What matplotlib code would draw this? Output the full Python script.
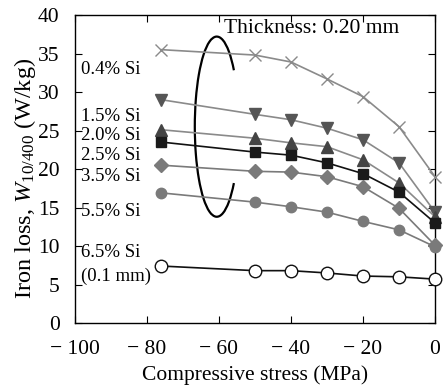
import matplotlib
matplotlib.use('Agg')
import matplotlib.pyplot as plt
import matplotlib.patches as patches
import numpy as np

plt.rcParams['font.family'] = ['Liberation Serif', 'DejaVu Serif']
plt.rcParams['mathtext.fontset'] = 'custom'
plt.rcParams['mathtext.rm'] = 'Liberation Serif'
plt.rcParams['mathtext.it'] = 'Liberation Serif:italic'

# data
stress = [-76, -50, -40, -30, -20, -10, 0]
si_04 = [35.5, 34.8, 33.9, 31.7, 29.4, 25.5, 19.0]
si_15 = [29.0, 27.1, 26.4, 25.3, 23.8, 20.8, 14.4]
si_20 = [25.1, 24.0, 23.4, 22.9, 21.2, 18.2, 13.8]
si_25 = [23.5, 22.2, 21.8, 20.8, 19.4, 17.0, 13.0]
si_35 = [20.5, 19.7, 19.6, 19.0, 17.7, 14.9, 10.1]
si_55 = [16.9, 15.7, 15.1, 14.4, 13.2, 12.1, 9.9]
si_65 = [7.4, 6.8, 6.8, 6.5, 6.1, 6.0, 5.7]

labels = ['0.4% Si', '1.5% Si', '2.0% Si', '2.5% Si', '3.5% Si', '5.5% Si', '6.5% Si', '(0.1 mm)']
label_y = [32.9, 26.8, 24.4, 21.7, 19.0, 14.5, 9.1, 6.0]
xticks = [-100, -80, -60, -40, -20, 0]
xticklabels = ['\u2212 100', '\u2212 80', '\u2212 60', '\u2212 40', '\u2212 20', '0']

fig = plt.figure(figsize=(4.43, 3.85), dpi=100)
ax = fig.add_axes([0.169, 0.161, 0.813, 0.80])

series = [
    (si_04, dict(color='#8a8a8a', marker='x', ms=9, mew=1.0, mec='#8a8a8a')),
    (si_15, dict(color='#8a8a8a', marker='v', ms=9, mfc='#555555', mec='#555555')),
    (si_20, dict(color='#8a8a8a', marker='^', ms=9, mfc='#444444', mec='#444444')),
    (si_25, dict(color='#111111', marker='s', ms=7.5, mfc='#1a1a1a', mec='#1a1a1a')),
    (si_35, dict(color='#7a7a7a', marker='D', ms=7, mfc='#7a7a7a', mec='#7a7a7a')),
    (si_55, dict(color='#7a7a7a', marker='o', ms=7.5, mfc='#7a7a7a', mec='#7a7a7a')),
    (si_65, dict(color='#111111', marker='o', ms=9, mfc='white', mec='#111111', mew=1.0)),
]
for vals, kw in series:
    ax.plot(stress, vals, lw=1.2, clip_on=False, zorder=3, **kw)

for lab, y in zip(labels, label_y):
    ax.text(-98.3, y, lab, fontsize=13.5, va='center', ha='left')

ax.text(-58.5, 38.2, 'Thickness: 0.20 mm', fontsize=15.5, va='center', ha='left')

# open ellipse bracket
arc = patches.Arc((-60.6, 25.5), 12.2, 23.4, theta1=57, theta2=303,
                  color='black', lw=1.6)
ax.add_patch(arc)

ax.set_xlim(-100, 0)
ax.set_ylim(0, 40)
ax.set_xticks(xticks)
ax.set_xticklabels(xticklabels)
ax.set_yticks(range(0, 41, 5))
ax.tick_params(direction='in', top=True, right=True, length=5, width=0.8,
               labelsize=15.5)
ax.tick_params(axis='x', pad=12)
ax.tick_params(axis='y', pad=11)
for s in ax.spines.values():
    s.set_linewidth(1.0)

ax.set_xlabel('Compressive stress (MPa)', fontsize=15.5, labelpad=5)
ax.set_ylabel('Iron loss, $W_{10/400}$ (W/kg)', fontsize=17.5, labelpad=0, y=0.47)

fig.savefig('out.png', dpi=100)
